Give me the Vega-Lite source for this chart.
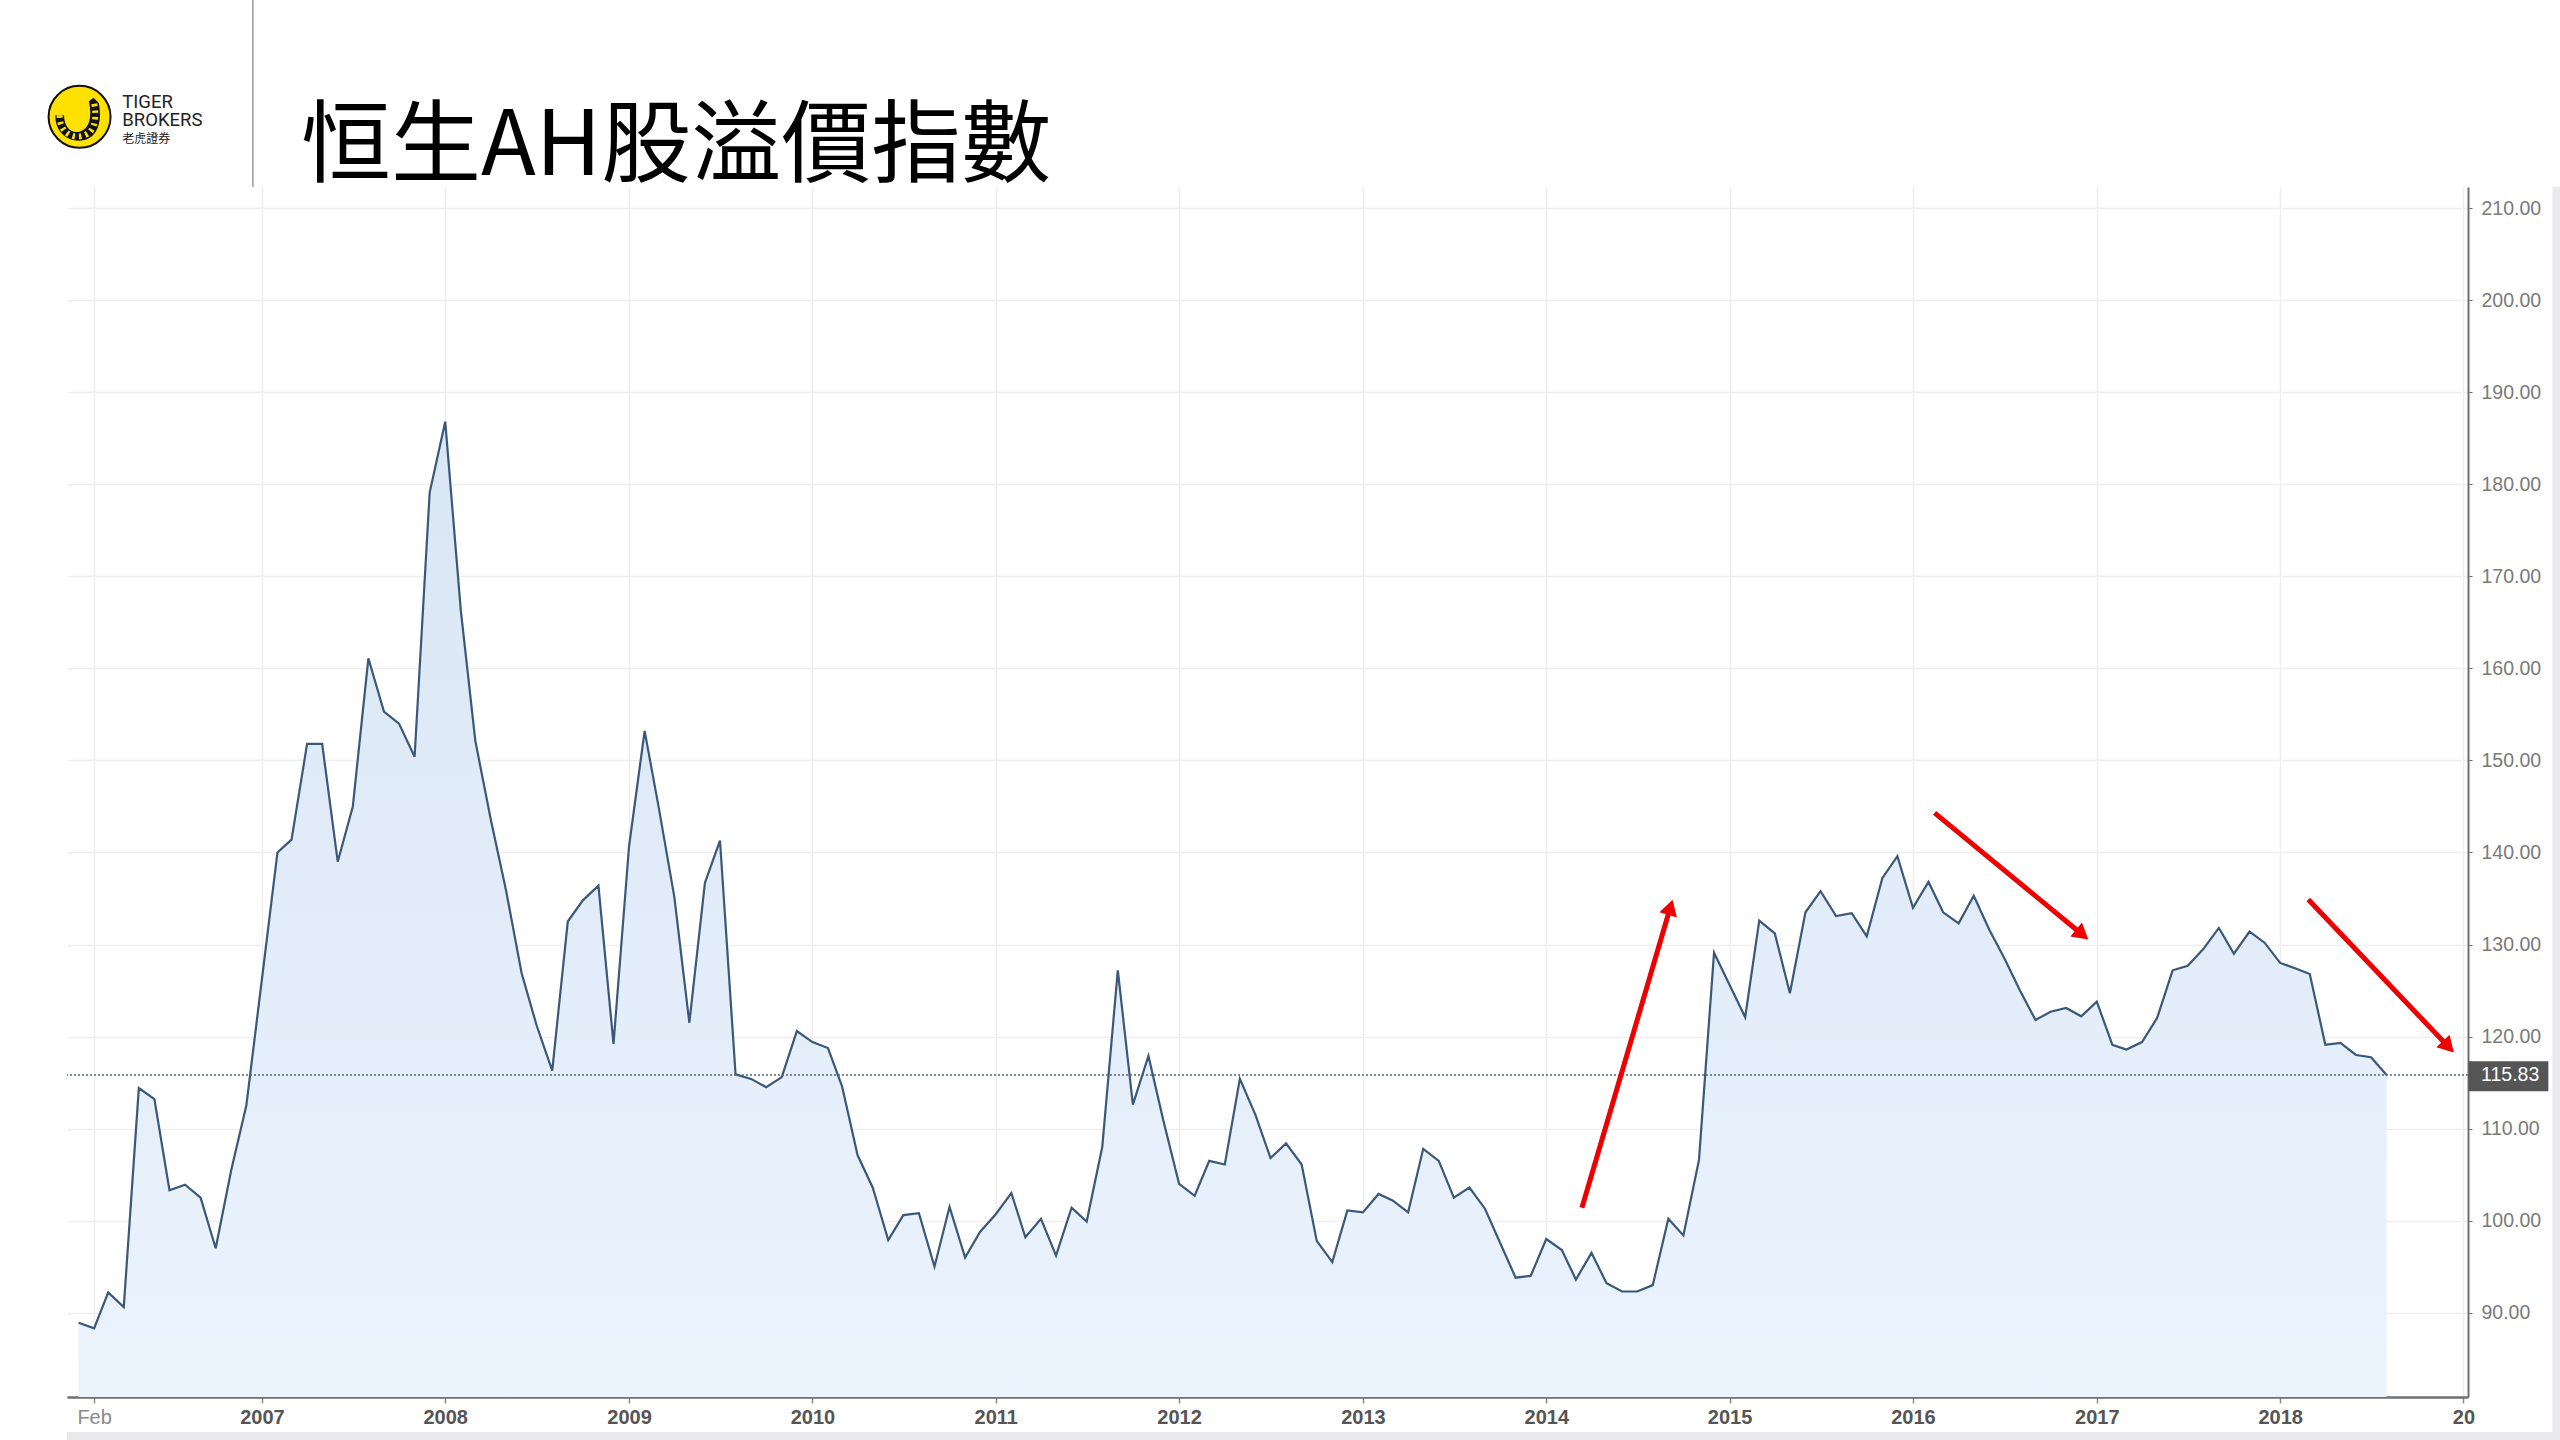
{
  "$schema": "https://vega.github.io/schema/vega-lite/v6.json",
  "width": 2401,
  "height": 1210,
  "autosize": "none",
  "padding": {"left": 67, "top": 187, "right": 92, "bottom": 43},
  "background": "white",
  "config": {"view": {"stroke": null}},
  "datasets": {
    "series": [
      {"date": "2006-01-01", "v": 88.9}, {"date": "2006-02-01", "v": 88.3}, {"date": "2006-03-01", "v": 92.2}, {"date": "2006-04-01", "v": 90.6},
      {"date": "2006-05-01", "v": 114.4}, {"date": "2006-06-01", "v": 113.2}, {"date": "2006-07-01", "v": 103.3}, {"date": "2006-08-01", "v": 103.9},
      {"date": "2006-09-01", "v": 102.5}, {"date": "2006-10-01", "v": 97.0}, {"date": "2006-11-01", "v": 105.5}, {"date": "2006-12-01", "v": 112.5},
      {"date": "2007-01-01", "v": 126.2}, {"date": "2007-02-01", "v": 140.0}, {"date": "2007-03-01", "v": 141.4}, {"date": "2007-04-01", "v": 151.8},
      {"date": "2007-05-01", "v": 151.8}, {"date": "2007-06-01", "v": 139.0}, {"date": "2007-07-01", "v": 145.0}, {"date": "2007-08-01", "v": 161.1},
      {"date": "2007-09-01", "v": 155.3}, {"date": "2007-10-01", "v": 154.0}, {"date": "2007-11-01", "v": 150.4}, {"date": "2007-12-01", "v": 179.1},
      {"date": "2008-01-01", "v": 186.8}, {"date": "2008-02-01", "v": 166.3}, {"date": "2008-03-01", "v": 152.1}, {"date": "2008-04-01", "v": 143.5},
      {"date": "2008-05-01", "v": 135.9}, {"date": "2008-06-01", "v": 126.9}, {"date": "2008-07-01", "v": 121.2}, {"date": "2008-08-01", "v": 116.3},
      {"date": "2008-09-01", "v": 132.5}, {"date": "2008-10-01", "v": 134.8}, {"date": "2008-11-01", "v": 136.4}, {"date": "2008-12-01", "v": 119.2},
      {"date": "2009-01-01", "v": 140.7}, {"date": "2009-02-01", "v": 153.2}, {"date": "2009-03-01", "v": 144.9}, {"date": "2009-04-01", "v": 135.2},
      {"date": "2009-05-01", "v": 121.5}, {"date": "2009-06-01", "v": 136.7}, {"date": "2009-07-01", "v": 141.3}, {"date": "2009-08-01", "v": 115.9},
      {"date": "2009-09-01", "v": 115.4}, {"date": "2009-10-01", "v": 114.5}, {"date": "2009-11-01", "v": 115.6}, {"date": "2009-12-01", "v": 120.6},
      {"date": "2010-01-01", "v": 119.4}, {"date": "2010-02-01", "v": 118.75}, {"date": "2010-03-01", "v": 114.6}, {"date": "2010-04-01", "v": 107.1},
      {"date": "2010-05-01", "v": 103.6}, {"date": "2010-06-01", "v": 97.9}, {"date": "2010-07-01", "v": 100.6}, {"date": "2010-08-01", "v": 100.8},
      {"date": "2010-09-01", "v": 95.0}, {"date": "2010-10-01", "v": 101.5}, {"date": "2010-11-01", "v": 96.0}, {"date": "2010-12-01", "v": 98.8},
      {"date": "2011-01-01", "v": 100.7}, {"date": "2011-02-01", "v": 103.0}, {"date": "2011-03-01", "v": 98.2}, {"date": "2011-04-01", "v": 100.2},
      {"date": "2011-05-01", "v": 96.2}, {"date": "2011-06-01", "v": 101.4}, {"date": "2011-07-01", "v": 99.9}, {"date": "2011-08-01", "v": 108.0},
      {"date": "2011-09-01", "v": 127.2}, {"date": "2011-10-01", "v": 112.6}, {"date": "2011-11-01", "v": 117.9}, {"date": "2011-12-01", "v": 110.8},
      {"date": "2012-01-01", "v": 104.0}, {"date": "2012-02-01", "v": 102.7}, {"date": "2012-03-01", "v": 106.5}, {"date": "2012-04-01", "v": 106.1},
      {"date": "2012-05-01", "v": 115.4}, {"date": "2012-06-01", "v": 111.5}, {"date": "2012-07-01", "v": 106.8}, {"date": "2012-08-01", "v": 108.4},
      {"date": "2012-09-01", "v": 106.1}, {"date": "2012-10-01", "v": 97.8}, {"date": "2012-11-01", "v": 95.5}, {"date": "2012-12-01", "v": 101.1},
      {"date": "2013-01-01", "v": 100.9}, {"date": "2013-02-01", "v": 102.9}, {"date": "2013-03-01", "v": 102.2}, {"date": "2013-04-01", "v": 100.9},
      {"date": "2013-05-01", "v": 107.8}, {"date": "2013-06-01", "v": 106.5}, {"date": "2013-07-01", "v": 102.5}, {"date": "2013-08-01", "v": 103.6},
      {"date": "2013-09-01", "v": 101.3}, {"date": "2013-10-01", "v": 97.6}, {"date": "2013-11-01", "v": 93.8}, {"date": "2013-12-01", "v": 94.0},
      {"date": "2014-01-01", "v": 98.0}, {"date": "2014-02-01", "v": 96.8}, {"date": "2014-03-01", "v": 93.6}, {"date": "2014-04-01", "v": 96.5},
      {"date": "2014-05-01", "v": 93.2}, {"date": "2014-06-01", "v": 92.3}, {"date": "2014-07-01", "v": 92.3}, {"date": "2014-08-01", "v": 93.0},
      {"date": "2014-09-01", "v": 100.2}, {"date": "2014-10-01", "v": 98.4}, {"date": "2014-11-01", "v": 106.6}, {"date": "2014-12-01", "v": 129.1},
      {"date": "2015-01-01", "v": 125.6}, {"date": "2015-02-01", "v": 122.1}, {"date": "2015-03-01", "v": 132.6}, {"date": "2015-04-01", "v": 131.2},
      {"date": "2015-05-01", "v": 124.7}, {"date": "2015-06-01", "v": 133.5}, {"date": "2015-07-01", "v": 135.8}, {"date": "2015-08-01", "v": 133.1},
      {"date": "2015-09-01", "v": 133.4}, {"date": "2015-10-01", "v": 130.9}, {"date": "2015-11-01", "v": 137.2}, {"date": "2015-12-01", "v": 139.6},
      {"date": "2016-01-01", "v": 134.0}, {"date": "2016-02-01", "v": 136.8}, {"date": "2016-03-01", "v": 133.5}, {"date": "2016-04-01", "v": 132.3},
      {"date": "2016-05-01", "v": 135.3}, {"date": "2016-06-01", "v": 131.6}, {"date": "2016-07-01", "v": 128.5}, {"date": "2016-08-01", "v": 125.0},
      {"date": "2016-09-01", "v": 121.8}, {"date": "2016-10-01", "v": 122.7}, {"date": "2016-11-01", "v": 123.1}, {"date": "2016-12-01", "v": 122.2},
      {"date": "2017-01-01", "v": 123.8}, {"date": "2017-02-01", "v": 119.1}, {"date": "2017-03-01", "v": 118.6}, {"date": "2017-04-01", "v": 119.4},
      {"date": "2017-05-01", "v": 122.0}, {"date": "2017-06-01", "v": 127.2}, {"date": "2017-07-01", "v": 127.7}, {"date": "2017-08-01", "v": 129.5},
      {"date": "2017-09-01", "v": 131.8}, {"date": "2017-10-01", "v": 129.0}, {"date": "2017-11-01", "v": 131.4}, {"date": "2017-12-01", "v": 130.2},
      {"date": "2018-01-01", "v": 128.0}, {"date": "2018-02-01", "v": 127.4}, {"date": "2018-03-01", "v": 126.8}, {"date": "2018-04-01", "v": 119.1},
      {"date": "2018-05-01", "v": 119.3}, {"date": "2018-06-01", "v": 118.0}, {"date": "2018-07-01", "v": 117.75}, {"date": "2018-08-01", "v": 115.83}
    ],
    "arrows": [
      {"date": "2014-03-13", "v": 101.4, "date2": "2014-09-05", "v2": 134.04, "ang": 16.4},
      {"date": "2016-02-13", "v": 144.3, "date2": "2016-12-03", "v2": 131.09, "ang": 129.4},
      {"date": "2018-02-26", "v": 134.9, "date2": "2018-12-02", "v2": 118.89, "ang": 136.5}
    ]
  },
  "layer": [
    {
      "data": {"name": "series"},
      "mark": {
        "type": "area",
        "color": {"gradient": "linear", "x1": 0, "y1": 0, "x2": 0, "y2": 1,
          "stops": [{"offset": 0, "color": "#d9e6f4"}, {"offset": 1, "color": "#ebf3fd"}]}
      },
      "encoding": {
        "x": {
          "field": "date", "type": "temporal", "title": null,
          "scale": {"type": "utc", "domain": [{"year": 2005, "month": 12, "date": 9, "utc": true}, {"year": 2019, "month": 1, "date": 10, "utc": true}]},
          "axis": {
            "values": [
              {"year": 2006, "month": 2, "date": 1, "utc": true},
              {"year": 2007, "month": 1, "date": 1, "utc": true},
              {"year": 2008, "month": 1, "date": 1, "utc": true},
              {"year": 2009, "month": 1, "date": 1, "utc": true},
              {"year": 2010, "month": 1, "date": 1, "utc": true},
              {"year": 2011, "month": 1, "date": 1, "utc": true},
              {"year": 2012, "month": 1, "date": 1, "utc": true},
              {"year": 2013, "month": 1, "date": 1, "utc": true},
              {"year": 2014, "month": 1, "date": 1, "utc": true},
              {"year": 2015, "month": 1, "date": 1, "utc": true},
              {"year": 2016, "month": 1, "date": 1, "utc": true},
              {"year": 2017, "month": 1, "date": 1, "utc": true},
              {"year": 2018, "month": 1, "date": 1, "utc": true},
              {"year": 2019, "month": 1, "date": 1, "utc": true}
            ],
            "labelExpr": "utcmonth(datum.value) == 1 ? 'Feb' : (utcyear(datum.value) == 2019 ? '20' : utcFormat(datum.value, '%Y'))",
            "grid": true, "gridColor": "#ededed", "gridWidth": 1.5,
            "domainColor": "#707070", "domainWidth": 2.5,
            "tickColor": "#8a8a8a", "tickSize": 6, "tickWidth": 1.5,
            "labelFont": "Liberation Sans", "labelFontSize": 20, "labelPadding": 4,
            "labelFlush": false, "labelOverlap": false,
            "labelColor": {"condition": {"test": "utcmonth(datum.value) == 1", "value": "#8a8a8a"}, "value": "#555555"},
            "labelFontWeight": {"condition": {"test": "utcmonth(datum.value) == 1", "value": "normal"}, "value": "bold"}
          }
        },
        "y": {
          "field": "v", "type": "quantitative", "title": null,
          "scale": {"domain": [80.84, 212.3], "nice": false, "zero": false},
          "axis": {
            "orient": "right",
            "values": [90, 100, 110, 120, 130, 140, 150, 160, 170, 180, 190, 200, 210],
            "format": ".2f",
            "grid": true, "gridColor": "#efefef", "gridWidth": 1.5,
            "domainColor": "#707070", "domainWidth": 2,
            "tickColor": "#707070", "tickSize": 4,
            "labelFont": "Liberation Sans", "labelFontSize": 19.5, "labelColor": "#7a7a7a", "labelPadding": 9
          }
        },
        "y2": {"datum": 80.84}
      }
    },
    {
      "data": {"name": "series"},
      "mark": {"type": "line", "color": "#3a5878", "strokeWidth": 2.2},
      "encoding": {
        "x": {"field": "date", "type": "temporal"},
        "y": {"field": "v", "type": "quantitative"}
      }
    },
    {
      "data": {"values": [{"v": 115.83}]},
      "mark": {"type": "rule", "color": "#4a6583", "strokeWidth": 1.5, "strokeDash": [2, 2]},
      "encoding": {"y": {"field": "v", "type": "quantitative"}}
    },
    {
      "data": {"name": "arrows"},
      "mark": {"type": "rule", "color": "#ee0000", "strokeWidth": 5},
      "encoding": {
        "x": {"field": "date", "type": "temporal"},
        "y": {"field": "v", "type": "quantitative"},
        "x2": {"field": "date2"},
        "y2": {"field": "v2"}
      }
    },
    {
      "data": {"name": "arrows"},
      "mark": {"type": "point", "shape": "triangle-up", "filled": true, "color": "#ee0000", "opacity": 1, "size": 330},
      "encoding": {
        "x": {"field": "date2", "type": "temporal"},
        "y": {"field": "v2", "type": "quantitative"},
        "angle": {"field": "ang", "type": "quantitative", "scale": null}
      }
    },
    {
      "data": {"values": [{"date": "2019-01-11", "date2": "2019-06-19", "v": 117.32, "v2": 114.06}]},
      "mark": {"type": "rect", "color": "#555555"},
      "encoding": {
        "x": {"field": "date", "type": "temporal"},
        "x2": {"field": "date2"},
        "y": {"field": "v", "type": "quantitative"},
        "y2": {"field": "v2"}
      }
    },
    {
      "data": {"values": [{"date": "2019-04-04", "v": 115.83, "label": "115.83"}]},
      "mark": {"type": "text", "color": "white", "font": "Liberation Sans", "fontSize": 19.5, "align": "center", "baseline": "middle"},
      "encoding": {
        "x": {"field": "date", "type": "temporal"},
        "y": {"field": "v", "type": "quantitative"},
        "text": {"field": "label"}
      }
    },
    {
      "data": {"values": [
        {"date": "2005-12-09", "date2": "2019-07-20", "v": 77.03, "v2": 70},
        {"date": "2019-06-27", "date2": "2019-07-20", "v": 212.3, "v2": 70}
      ]},
      "mark": {"type": "rect", "color": "#e8e8ed"},
      "encoding": {
        "x": {"field": "date", "type": "temporal"},
        "x2": {"field": "date2"},
        "y": {"field": "v", "type": "quantitative"},
        "y2": {"field": "v2"}
      }
    },
    {
      "data": {"values": [{"date": "2006-12-14", "v": 233, "v2": 212.3}]},
      "mark": {"type": "rule", "color": "#9a9a9a", "strokeWidth": 1.5},
      "encoding": {
        "x": {"field": "date", "type": "temporal"},
        "y": {"field": "v", "type": "quantitative"},
        "y2": {"field": "v2"}
      }
    },
    {
      "data": {"values": [{"date": "2006-01-03", "v": 219.92}]},
      "mark": {"type": "point", "shape": "circle", "filled": true, "fill": "#ffe100", "stroke": "#111111", "strokeWidth": 2, "opacity": 1, "size": 3844},
      "encoding": {
        "x": {"field": "date", "type": "temporal"},
        "y": {"field": "v", "type": "quantitative"}
      }
    },
    {
      "data": {"values": [{"date": "2006-01-03", "v": 219.92}]},
      "mark": {"type": "point", "shape": "M -0.78 -0.05 C -0.8 0.55 -0.3 0.85 0.15 0.75 C 0.55 0.65 0.75 0.2 0.62 -0.45 L 0.45 -0.62 L 0.3 -0.5 C 0.42 0.05 0.3 0.4 0.0 0.48 C -0.3 0.55 -0.5 0.3 -0.5 -0.05 Z", "filled": true, "color": "#111111", "opacity": 1, "size": 3844},
      "encoding": {
        "x": {"field": "date", "type": "temporal"},
        "y": {"field": "v", "type": "quantitative"}
      }
    },
    {
      "data": {"values": [{"date": "2006-01-03", "v": 219.92}]},
      "mark": {"type": "point", "shape": "M -0.64 -0.05 C -0.65 0.45 -0.3 0.7 0.07 0.62 C 0.45 0.55 0.58 0.15 0.47 -0.45", "filled": false, "stroke": "#ffe100", "strokeWidth": 6, "strokeDash": [2.5, 4], "opacity": 1, "size": 3844},
      "encoding": {
        "x": {"field": "date", "type": "temporal"},
        "y": {"field": "v", "type": "quantitative"}
      }
    },
    {
      "data": {"values": [
        {"date": "2006-03-29", "v": 220.83, "label": "TIGER"},
        {"date": "2006-03-29", "v": 218.95, "label": "BROKERS"}
      ]},
      "mark": {"type": "text", "color": "#222222", "font": "Roboto", "fontSize": 18.5, "align": "left", "baseline": "alphabetic"},
      "encoding": {
        "x": {"field": "date", "type": "temporal"},
        "y": {"field": "v", "type": "quantitative"},
        "text": {"field": "label"}
      }
    },
    {
      "data": {"values": [{"date": "2006-03-29", "v": 217.13, "label": "老虎證券"}]},
      "mark": {"type": "text", "color": "#222222", "font": "Noto Sans CJK TC", "fontSize": 12, "align": "left", "baseline": "alphabetic"},
      "encoding": {
        "x": {"field": "date", "type": "temporal"},
        "y": {"field": "v", "type": "quantitative"},
        "text": {"field": "label"}
      }
    },
    {
      "data": {"values": [{"date": "2007-03-20", "v": 213.63, "label": "恒生AH股溢價指數"}]},
      "mark": {"type": "text", "color": "#000000", "font": "Noto Sans CJK TC", "fontSize": 90, "align": "left", "baseline": "alphabetic"},
      "encoding": {
        "x": {"field": "date", "type": "temporal"},
        "y": {"field": "v", "type": "quantitative"},
        "text": {"field": "label"}
      }
    }
  ]
}
